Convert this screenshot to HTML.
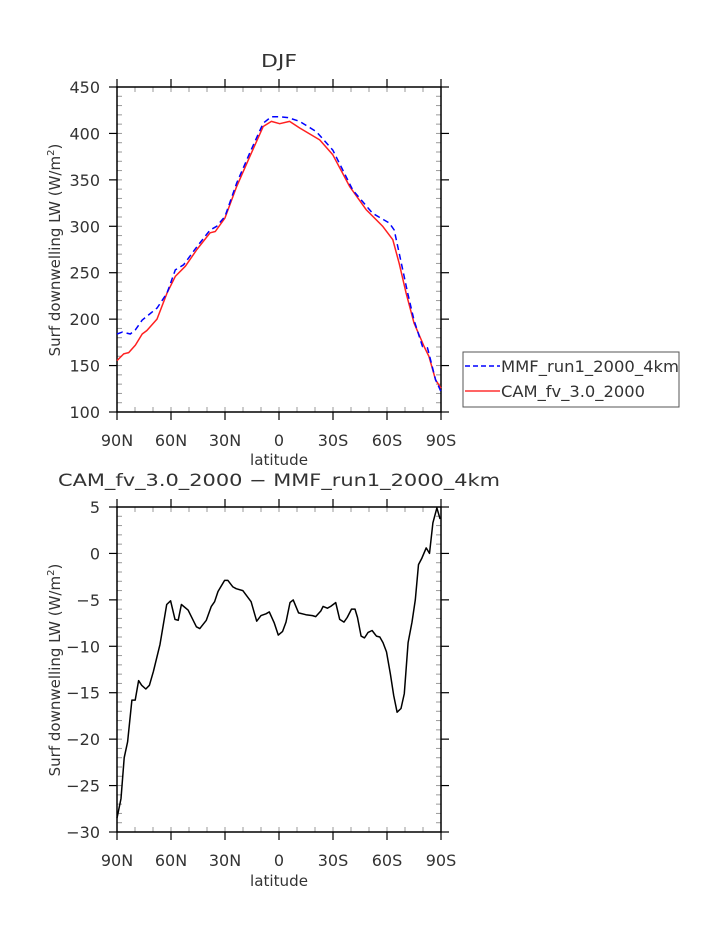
<!DOCTYPE html>
<html><head><meta charset="utf-8"><style>
body{margin:0;background:#fff;}
svg{display:block;font-family:"DejaVu Sans","Liberation Sans",sans-serif;}
text{fill:#333;}
</style></head><body>
<svg id="chart" width="723" height="935" viewBox="0 0 723 935" xmlns="http://www.w3.org/2000/svg">
<text x="279" y="67" font-size="18" text-anchor="middle" textLength="36" lengthAdjust="spacingAndGlyphs">DJF</text>
<text x="279" y="486" font-size="17" text-anchor="middle" textLength="442" lengthAdjust="spacingAndGlyphs">CAM_fv_3.0_2000 − MMF_run1_2000_4km</text>
<text x="279" y="465" font-size="15" text-anchor="middle" textLength="58" lengthAdjust="spacingAndGlyphs">latitude</text>
<text x="279" y="886" font-size="15" text-anchor="middle" textLength="58" lengthAdjust="spacingAndGlyphs">latitude</text>
<text transform="translate(60,250) rotate(-90)" font-size="15" text-anchor="middle">Surf downwelling LW (W/m<tspan font-size="10" dy="-6">2</tspan><tspan dy="6">)</tspan></text>
<text transform="translate(60,670) rotate(-90)" font-size="15" text-anchor="middle">Surf downwelling LW (W/m<tspan font-size="10" dy="-6">2</tspan><tspan dy="6">)</tspan></text>
<g>
<rect x="463" y="352" width="216" height="55" fill="#fff" stroke="#555" stroke-width="1"/>
<line x1="465" y1="366" x2="500" y2="366" stroke="#0000ff" stroke-width="1.5" stroke-dasharray="5,3"/>
<text x="501" y="372" font-size="16" textLength="178" lengthAdjust="spacingAndGlyphs">MMF_run1_2000_4km</text>
<line x1="465" y1="391" x2="500" y2="391" stroke="#ff3030" stroke-width="1.5"/>
<text x="501" y="397" font-size="16" textLength="144" lengthAdjust="spacingAndGlyphs">CAM_fv_3.0_2000</text>
</g>
</svg>
<script>
const xTickLabels=["90N","60N","30N","0","30S","60S","90S"];
const xTickLats=[90,60,30,0,-30,-60,-90];
const topYTicks=[100,150,200,250,300,350,400,450];
const botYTicks=[-30,-25,-20,-15,-10,-5,0,5];
const mmfLat=[90,87,82.6,79.8,76,67.7,62.2,57.6,53,45.6,38.3,34.6,30,23.5,16.2,8.8,4.2,-0.4,-5,-11.5,-20.7,-29.9,-41,-52,-61.3,-64,-66.8,-71.5,-75,-79.7,-82.5,-87,-90];
const mmfVal=[184,186,184,188.5,199,212,228,253,258.5,278,296,300,310.6,346.6,379,411,418,418,417,413,402,382,339,314,303.5,296,271,228,199,170.5,169,134.6,122];
const camLat=[90,86.3,83.5,79.8,76,73.4,67.8,62.2,57.6,52,45.6,38.3,35.4,30,23.5,16.2,8.8,4.2,-0.4,-5.9,-11.5,-22.6,-29.9,-39.2,-48.4,-57.6,-63.2,-66.8,-70.6,-75,-80.6,-83.3,-87,-90];
const camVal=[155.4,162.6,164,172,184,187.8,200,228,246,257,275,293,294.4,309,343,375,407.5,413,410.5,413,405.8,393,377,343,318,300,285.6,260,228,196,170.5,160,134.6,125.6];
const diffLat=[90,87.8,86,84.1,81.7,79.9,78,76.3,74,72,69.8,66.1,62.4,60.2,57.8,56,54.2,50.5,45.9,44,40.4,37.6,35.8,33.9,30.2,28.4,25.6,23.8,20.1,15.5,12.4,10,7.2,5.4,2.6,0.4,-2,-3.9,-6.1,-7.9,-10.9,-14.9,-18.6,-20.4,-23.2,-24.5,-26.9,-28.7,-31.5,-33.7,-36.1,-37.9,-40.3,-42.2,-43.6,-45.6,-47.5,-49.5,-51.7,-54.1,-56,-57.8,-59.7,-61.9,-63.7,-65.6,-67.8,-69.6,-71.7,-73.9,-75.7,-77.5,-79.4,-81.8,-83.6,-85.5,-87.7,-89.5];
const diffVal=[-28.5,-26.4,-22,-20.3,-15.8,-15.8,-13.7,-14.2,-14.6,-14.2,-12.7,-9.8,-5.5,-5.1,-7.1,-7.2,-5.5,-6.1,-7.9,-8.1,-7.2,-5.7,-5.2,-4.1,-2.9,-2.9,-3.6,-3.8,-4,-5.2,-7.3,-6.7,-6.5,-6.3,-7.5,-8.8,-8.4,-7.4,-5.3,-5,-6.4,-6.6,-6.7,-6.8,-6.2,-5.7,-5.9,-5.7,-5.3,-7.1,-7.4,-6.9,-6,-6,-6.9,-8.9,-9.1,-8.5,-8.3,-8.9,-9,-9.6,-10.6,-13,-15.3,-17.1,-16.7,-15.1,-9.6,-7.4,-5,-1.2,-0.5,0.6,0,3.3,4.9,3.7];

const NS="http://www.w3.org/2000/svg";
const svg=document.getElementById('chart');
const L=117,R=441;
function xs(lat){return L+(90-lat)/180*(R-L);}
function mk(tag,attrs){const e=document.createElementNS(NS,tag);for(const k in attrs)e.setAttribute(k,attrs[k]);return e;}

function panel(top,bot,ymin,ymax,ticks,minorStep,name){
  const ys=v=>bot-(v-ymin)/(ymax-ymin)*(bot-top);
  const g=mk('g',{});
  
  
  svg.appendChild(g);
  for(let v=ymin;v<=ymax+1e-9;v+=minorStep){
    const y=ys(v);
    g.appendChild(mk('line',{x1:L,x2:L+5,y1:y,y2:y,stroke:'#999','stroke-width':1}));
    g.appendChild(mk('line',{x1:R-5,x2:R,y1:y,y2:y,stroke:'#999','stroke-width':1}));
  }
  for(let lat=90;lat>=-90;lat-=10){
    const x=xs(lat);
    g.appendChild(mk('line',{x1:x,x2:x,y1:top,y2:top+5,stroke:'#999','stroke-width':1}));
    g.appendChild(mk('line',{x1:x,x2:x,y1:bot-5,y2:bot,stroke:'#999','stroke-width':1}));
  }
  ticks.forEach(v=>{
    const y=ys(v);
    g.appendChild(mk('line',{x1:L-8,x2:L,y1:y,y2:y,stroke:'#000','stroke-width':1.2}));
    g.appendChild(mk('line',{x1:R,x2:R+8,y1:y,y2:y,stroke:'#000','stroke-width':1.2}));
    const t=mk('text',{x:L-17,y:y+6,'font-size':16,'text-anchor':'end'});
    
    
    t.textContent=(v<0?'\u2212'+(-v):String(v));
    svg.appendChild(t);
  });
  xTickLats.forEach((lat,i)=>{
    const x=xs(lat);
    g.appendChild(mk('line',{x1:x,x2:x,y1:top-8,y2:top,stroke:'#000','stroke-width':1.2}));
    g.appendChild(mk('line',{x1:x,x2:x,y1:bot,y2:bot+8,stroke:'#000','stroke-width':1.2}));
    const t=mk('text',{x:x,y:bot+34,'font-size':16,'text-anchor':'middle'});
    
    
    t.textContent=xTickLabels[i];
    svg.appendChild(t);
  });
  g.appendChild(mk('rect',{x:L,y:top,width:R-L,height:bot-top,fill:'none',stroke:'#000','stroke-width':1.5}));
  return ys;
}
function line(lats,vals,ys,color,dash,name){
  const d=lats.map((l,i)=>(i?'L':'M')+xs(l).toFixed(1)+','+ys(vals[i]).toFixed(1)).join(' ');
  const p=mk('path',{d:d,fill:'none',stroke:color,'stroke-width':1.5,'stroke-linejoin':'round'});
  if(dash)p.setAttribute('stroke-dasharray',dash);
  
  
  svg.appendChild(p);
}
const ys1=panel(87,412,100,450,topYTicks,10,'top');
line(camLat,camVal,ys1,'#ff2020',null,'cam-line');
line(mmfLat,mmfVal,ys1,'#0000ff','6,4','mmf-line');
const ys2=panel(507,832,-30,5,botYTicks,1,'bottom');
line(diffLat,diffVal,ys2,'#000',null,'difference-line');
</script>
</body></html>
